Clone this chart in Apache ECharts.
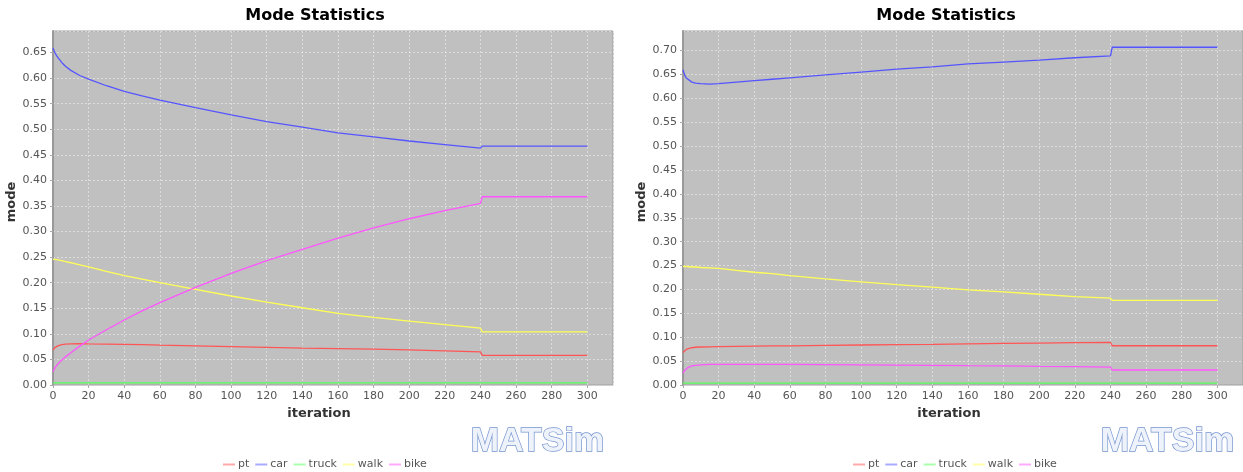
<!DOCTYPE html>
<html>
<head>
<meta charset="utf-8">
<title>Mode Statistics</title>
<script src="https://cdn.jsdelivr.net/npm/echarts@6/dist/echarts.min.js"></script>
<style>
html, body { margin: 0; padding: 0; background: #fff; }
#main { width: 1243px; height: 472px; }
</style>
</head>
<body>
<div id="main"></div>
<script>
// 数据：两次模拟的方式分担率（读图估算）
const modes = ['pt', 'car', 'truck', 'walk', 'bike']
const iterations = [0, 1, 2, 3, 5, 7, 10, 15, 20, 30, 40, 50, 60, 80, 100, 120, 140, 160, 180, 200, 220, 240, 241, 260, 280, 300]
const xTicks = [0, 20, 40, 60, 80, 100, 120, 140, 160, 180, 200, 220, 240, 260, 280, 300]

// left run
const ptA = [0.068, 0.073, 0.076, 0.077, 0.079, 0.080, 0.0805, 0.081, 0.0805, 0.080, 0.0795, 0.079, 0.078, 0.0765, 0.075, 0.0735, 0.072, 0.071, 0.070, 0.0687, 0.0668, 0.0648, 0.0578, 0.0578, 0.0578, 0.0578]
const carA = [0.659, 0.650, 0.644, 0.639, 0.630, 0.623, 0.615, 0.605, 0.598, 0.585, 0.574, 0.565, 0.557, 0.542, 0.528, 0.515, 0.504, 0.493, 0.485, 0.477, 0.470, 0.463, 0.467, 0.467, 0.467, 0.467]
const truckA = [0.004, 0.004, 0.004, 0.004, 0.004, 0.004, 0.004, 0.004, 0.004, 0.004, 0.004, 0.004, 0.004, 0.004, 0.004, 0.004, 0.004, 0.004, 0.004, 0.004, 0.004, 0.004, 0.004, 0.004, 0.004, 0.004]
const walkA = [0.246, 0.246, 0.245, 0.244, 0.243, 0.241, 0.239, 0.235, 0.231, 0.222, 0.214, 0.207, 0.200, 0.187, 0.174, 0.162, 0.151, 0.140, 0.132, 0.125, 0.118, 0.111, 0.104, 0.104, 0.104, 0.104]
const bikeA = [0.026, 0.033, 0.038, 0.042, 0.049, 0.055, 0.063, 0.076, 0.088, 0.108, 0.127, 0.145, 0.161, 0.191, 0.218, 0.243, 0.265, 0.287, 0.307, 0.325, 0.341, 0.355, 0.368, 0.368, 0.368, 0.368]

// right run
const ptB = [0.068, 0.072, 0.075, 0.076, 0.078, 0.079, 0.0795, 0.080, 0.0805, 0.081, 0.0815, 0.082, 0.082, 0.083, 0.0837, 0.0845, 0.085, 0.0862, 0.087, 0.0878, 0.0885, 0.089, 0.0822, 0.0822, 0.0822, 0.0822]
const carB = [0.660, 0.648, 0.642, 0.638, 0.634, 0.632, 0.631, 0.630, 0.631, 0.634, 0.637, 0.640, 0.643, 0.649, 0.655, 0.661, 0.666, 0.672, 0.676, 0.680, 0.685, 0.689, 0.707, 0.707, 0.707, 0.707]
const truckB = [0.004, 0.004, 0.004, 0.004, 0.004, 0.004, 0.004, 0.004, 0.004, 0.004, 0.004, 0.004, 0.004, 0.004, 0.004, 0.004, 0.004, 0.004, 0.004, 0.004, 0.004, 0.004, 0.004, 0.004, 0.004, 0.004]
const walkB = [0.248, 0.248, 0.248, 0.248, 0.247, 0.247, 0.246, 0.245, 0.244, 0.240, 0.236, 0.233, 0.229, 0.222, 0.216, 0.210, 0.205, 0.199, 0.195, 0.190, 0.185, 0.182, 0.177, 0.177, 0.177, 0.177]
const bikeB = [0.025, 0.031, 0.035, 0.037, 0.040, 0.041, 0.042, 0.043, 0.043, 0.043, 0.043, 0.043, 0.043, 0.0425, 0.042, 0.0415, 0.041, 0.0404, 0.040, 0.039, 0.0383, 0.0376, 0.0314, 0.0314, 0.0314, 0.0314]

const runA = [ptA, carA, truckA, walkA, bikeA]
const runB = [ptB, carB, truckB, walkB, bikeB]

const lineColors = ['#ff5555', '#5555ff', '#55ff55', '#ffff55', '#ff55ff']
const legendColors = ['#ffaaaa', '#aaaaff', '#aaffaa', '#ffffaa', '#ffaaff']

let myChart = echarts.init(document.getElementById('main'))

function xAxisFor (idx) {
  return {
    gridIndex: idx,
    type: 'value',
    min: 0,
    max: 314.4,
    interval: 20,
    name: 'iteration',
    nameLocation: 'middle',
    nameGap: 20,
    nameTextStyle: {
      color: '#333',
      fontWeight: 'bold',
      fontSize: 13,
      padding: [0, 28, 0, 0]
    },
    axisLine: { show: true, onZero: false, lineStyle: { color: '#cfcfcf', width: 1 } },
    axisTick: { show: true, length: 3, lineStyle: { color: '#aaa' } },
    axisLabel: {
      color: '#555',
      fontSize: 11,
      margin: 6,
      showMaxLabel: false,
      formatter: v => (xTicks.indexOf(v) >= 0 ? String(v) : '')
    },
    splitLine: {
      show: true,
      lineStyle: { color: 'rgba(255,255,255,0.45)', type: [2, 2], width: 1 }
    }
  }
}

function yAxisFor (idx, max) {
  return {
    gridIndex: idx,
    type: 'value',
    min: 0,
    max: max,
    interval: 0.05,
    name: 'mode',
    nameLocation: 'middle',
    nameGap: 33,
    nameRotate: 90,
    nameTextStyle: {
      color: '#333',
      fontWeight: 'bold',
      fontSize: 13,
      padding: [0, 0, 0, 12]
    },
    axisLine: { show: true, lineStyle: { color: '#999', width: 2 } },
    axisTick: { show: true, length: 3, lineStyle: { color: '#aaa' } },
    axisLabel: {
      color: '#555',
      fontSize: 11,
      margin: 6,
      showMaxLabel: false,
      formatter: v => v.toFixed(2)
    },
    splitLine: {
      show: true,
      lineStyle: { color: 'rgba(255,255,255,0.45)', type: [2, 2], width: 1 }
    }
  }
}

function seriesFor (run, idx) {
  return modes.map((m, k) => ({
    name: m,
    type: 'line',
    xAxisIndex: idx,
    yAxisIndex: idx,
    showSymbol: false,
    symbol: 'none',
    animation: false,
    z: 5,
    lineStyle: { width: 1.3, color: lineColors[k] },
    itemStyle: { color: lineColors[k] },
    data: iterations.map((it, i) => [it, run[k][i]])
  }))
}

function legendFor (left) {
  return {
    left: left,
    top: 454,
    icon: 'rect',
    itemWidth: 12,
    itemHeight: 2,
    itemGap: 6,
    textStyle: { color: '#555', fontSize: 11, padding: [0, 0, 0, -2] },
    data: modes.map((m, k) => ({ name: m, itemStyle: { color: legendColors[k] } }))
  }
}

function logoAt (x) {
  return {
    type: 'text',
    left: x,
    top: 424,
    style: {
      text: 'MATSim',
      font: 'bold 34px "Liberation Sans", Arial, sans-serif',
      fill: '#eef2fa',
      stroke: '#7594d0',
      lineWidth: 1.4
    }
  }
}

let option = {
  backgroundColor: '#fff',
  textStyle: { fontFamily: '"DejaVu Sans", sans-serif' },
  title: [
    {
      text: 'Mode Statistics',
      left: 310,
      top: 3,
      textAlign: 'center',
      textStyle: { fontSize: 16, fontWeight: 'bold', color: '#000' }
    },
    {
      text: 'Mode Statistics',
      left: 941,
      top: 3,
      textAlign: 'center',
      textStyle: { fontSize: 16, fontWeight: 'bold', color: '#000' }
    }
  ],
  legend: [legendFor(218), legendFor(848)],
  grid: [
    { left: 53, top: 31, width: 560, height: 354, show: true, backgroundColor: '#c0c0c0', borderColor: '#a0a0a0', borderWidth: 1 },
    { left: 683, top: 31, width: 560, height: 354, show: true, backgroundColor: '#c0c0c0', borderColor: '#a0a0a0', borderWidth: 1 }
  ],
  xAxis: [xAxisFor(0), xAxisFor(1)],
  yAxis: [yAxisFor(0, 0.692), yAxisFor(1, 0.741)],
  graphic: [logoAt(470), logoAt(1100)],
  series: seriesFor(runA, 0).concat(seriesFor(runB, 1))
}
myChart.setOption(option, true)
</script>
</body>
</html>
